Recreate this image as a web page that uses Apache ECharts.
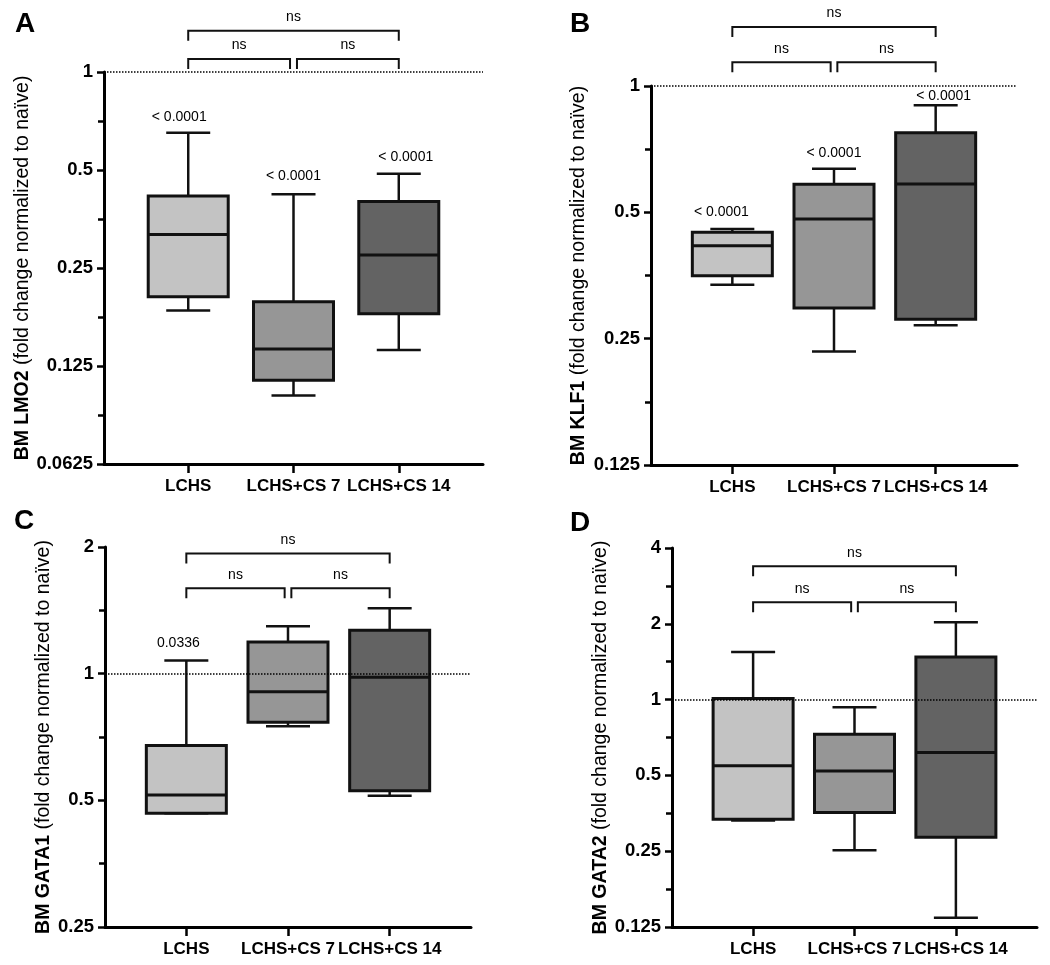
<!DOCTYPE html>
<html><head><meta charset="utf-8">
<script src="https://cdn.jsdelivr.net/npm/echarts@6/dist/echarts.min.js"></script>
<style>html,body{margin:0;padding:0;background:#fff}#c{width:1050px;height:965px}</style>
</head><body><div id="c"></div>
<script>
// ---------------- data ----------------
const categories = ['LCHS', 'LCHS+CS 7', 'LCHS+CS 14'];
// each group: [min, Q1, median, Q3, max]  (fold change normalized to naïve)
const lmo2  = [[0.185, 0.204, 0.317, 0.416, 0.651], [0.1015, 0.113, 0.141, 0.197, 0.421], [0.140, 0.181, 0.274, 0.400, 0.487]];
const klf1  = [[0.336, 0.353, 0.416, 0.448, 0.456], [0.233, 0.296, 0.482, 0.583, 0.635], [0.269, 0.278, 0.584, 0.774, 0.900]];
const gata1 = [[0.466, 0.466, 0.515, 0.675, 1.074], [0.750, 0.767, 0.906, 1.190, 1.296], [0.513, 0.527, 0.980, 1.268, 1.430]];
const gata2 = [[0.331, 0.335, 0.546, 1.009, 1.546], [0.252, 0.356, 0.521, 0.729, 0.933], [0.136, 0.284, 0.616, 1.477, 2.030]];
const pLmo2  = ['< 0.0001', '< 0.0001', '< 0.0001'];
const pKlf1  = ['< 0.0001', '< 0.0001', '< 0.0001'];
const pGata1 = ['0.0336', '', ''];
const pGata2 = ['', '', ''];
// pairwise comparisons: [groupA, groupB, label, row]
const comparisons = [[0, 1, 'ns', 0], [1, 2, 'ns', 0], [0, 2, 'ns', 1]];
const ticksLmo2  = [0.0625, 0.125, 0.25, 0.5, 1];
const ticksKlf1  = [0.125, 0.25, 0.5, 1];
const ticksGata1 = [0.25, 0.5, 1, 2];
const ticksGata2 = [0.125, 0.25, 0.5, 1, 2, 4];
const referenceValue = 1;

// ---------------- layout / style ----------------
const FONT = "'Liberation Sans', Arial, Helvetica, sans-serif";
const fills = ['#c3c3c3', '#969696', '#636363'];
const panels = [
  {letter: 'A', gene: 'LMO2', data: lmo2, p: pLmo2, ticks: ticksLmo2,
   grid: {left: 104, top: 72, width: 379, height: 392}, nameGap: 69, letterPos: [15, 10],
   rows: [0.133, 0.421], pOff: [[-9, -16], [0, -18], [7, -17]]},
  {letter: 'B', gene: 'KLF1', data: klf1, p: pKlf1, ticks: ticksKlf1,
   grid: {left: 651, top: 86, width: 366, height: 379}, nameGap: 62, letterPos: [570, 10],
   rows: [0.188, 0.467], pOff: [[-11, -17], [0, -16], [8, -9]]},
  {letter: 'C', gene: 'GATA1', data: gata1, p: pGata1, ticks: ticksGata1,
   grid: {left: 105, top: 547, width: 366, height: 380}, nameGap: 49, letterPos: [14, 507],
   rows: [0.674, 0.949], pOff: [[-8, -17], [0, -17], [0, -17]]},
  {letter: 'D', gene: 'GATA2', data: gata2, p: pGata2, ticks: ticksGata2,
   grid: {left: 672, top: 548, width: 365, height: 379}, nameGap: 61, letterPos: [570, 509],
   rows: [1.283, 1.758], pOff: [[0, -17], [0, -17], [0, -17]]}
];
const BOX_W = 80, CAP_W = 44, LEG = 10, GAP = 0.033;

const option = {animation: false, title: [], grid: [], xAxis: [], yAxis: [], series: []};

panels.forEach((pn, i) => {
  const lo = Math.log2(pn.ticks[0]), hi = Math.log2(pn.ticks[pn.ticks.length - 1]);
  option.title.push({text: pn.letter, left: pn.letterPos[0], top: pn.letterPos[1], padding: 0,
    textStyle: {fontSize: 28, fontWeight: 'bold', fontFamily: FONT, color: '#000'}});
  option.grid.push(Object.assign({containLabel: false}, pn.grid));
  option.xAxis.push({
    type: 'value', gridIndex: i, min: -0.8, max: 2.8,
    splitLine: {show: false},
    axisLine: {onZero: false, lineStyle: {color: '#000', width: 3}},
    axisTick: {customValues: [0, 1, 2], length: 9, lineStyle: {color: '#000', width: 2.5}},
    axisLabel: {customValues: [0, 1, 2], margin: 14, hideOverlap: false,
      formatter: v => categories[Math.round(v)],
      fontSize: 17, fontWeight: 'bold', fontFamily: FONT, color: '#000'}
  });
  option.yAxis.push({
    type: 'value', gridIndex: i, min: lo, max: hi, interval: 1,
    name: '{b|BM ' + pn.gene + '} (fold change normalized to naïve)',
    nameLocation: 'middle', nameGap: pn.nameGap, nameRotate: 90,
    nameTextStyle: {fontSize: 19.5, fontFamily: FONT, color: '#000',
      rich: {b: {fontSize: 19.5, fontWeight: 'bold', fontFamily: FONT, color: '#000'}}},
    splitLine: {show: false},
    axisLine: {onZero: false, lineStyle: {color: '#000', width: 3}},
    axisTick: {length: 7, lineStyle: {color: '#000', width: 2.5}},
    minorTick: {show: true, splitNumber: 2, length: 6, lineStyle: {color: '#000', width: 2.5}},
    axisLabel: {margin: 11, fontSize: 18.5, fontWeight: 'bold', fontFamily: FONT, color: '#000',
      formatter: v => {
        const t = pn.ticks.find(tt => Math.abs(Math.log2(tt) - v) < 1e-6);
        return t === undefined ? '' : String(t);
      }}
  });
  // boxes
  option.series.push({
    type: 'custom', xAxisIndex: i, yAxisIndex: i, clip: false,
    encode: {x: 0, y: [1, 2, 3, 4, 5]},
    data: pn.data.map((g, k) => [k].concat(g.map(v => Math.log2(v)))),
    renderItem: (params, api) => {
      const x = api.value(0);
      const pMin = api.coord([x, api.value(1)]);
      const pQ1 = api.coord([x, api.value(2)]);
      const pMed = api.coord([x, api.value(3)]);
      const pQ3 = api.coord([x, api.value(4)]);
      const pMax = api.coord([x, api.value(5)]);
      const cx = pMed[0], hw = BOX_W / 2, cw = CAP_W / 2;
      const ls = {stroke: '#111', lineWidth: 2.5};
      const idx = params.dataIndex;
      const children = [
        {type: 'line', shape: {x1: cx, y1: pMax[1], x2: cx, y2: pQ3[1]}, style: ls},
        {type: 'line', shape: {x1: cx - cw, y1: pMax[1], x2: cx + cw, y2: pMax[1]}, style: ls},
        {type: 'line', shape: {x1: cx, y1: pMin[1], x2: cx, y2: pQ1[1]}, style: ls},
        {type: 'line', shape: {x1: cx - cw, y1: pMin[1], x2: cx + cw, y2: pMin[1]}, style: ls},
        {type: 'rect', shape: {x: cx - hw, y: pQ3[1], width: BOX_W, height: pQ1[1] - pQ3[1]},
          style: {fill: fills[idx], stroke: '#111', lineWidth: 3}},
        {type: 'line', shape: {x1: cx - hw, y1: pMed[1], x2: cx + hw, y2: pMed[1]}, style: {stroke: '#111', lineWidth: 3}}
      ];
      if (pn.p[idx]) {
        children.push({type: 'text', x: cx + pn.pOff[idx][0], y: pMax[1] + pn.pOff[idx][1],
          style: {text: pn.p[idx], fontSize: 14, fontFamily: FONT, fill: '#000', align: 'center', verticalAlign: 'middle'}});
      }
      return {type: 'group', children};
    },
    markLine: {silent: true, symbol: ['none', 'none'], label: {show: false},
      lineStyle: {type: 'dotted', width: 1.5, color: '#000'},
      data: [{yAxis: Math.log2(referenceValue)}]},
    z: 3
  });
  // significance brackets
  option.series.push({
    type: 'custom', xAxisIndex: i, yAxisIndex: i, clip: false,
    encode: {x: [0, 1], y: 2},
    data: comparisons.map(c => {
      const row = c[3];
      const x1 = c[0] + (row === 0 && c[0] > 0 ? GAP : 0);
      const x2 = c[1] - (row === 0 && c[1] < categories.length - 1 ? GAP : 0);
      return [x1, x2, pn.rows[row], c[2]];
    }),
    renderItem: (params, api) => {
      const a = api.coord([api.value(0), api.value(2)]);
      const b = api.coord([api.value(1), api.value(2)]);
      const label = comparisons[params.dataIndex][2];
      return {type: 'group', children: [
        {type: 'polyline', shape: {points: [[a[0], a[1] + LEG], [a[0], a[1]], [b[0], b[1]], [b[0], b[1] + LEG]]},
          style: {stroke: '#111', lineWidth: 2, fill: null}},
        {type: 'text', x: (a[0] + b[0]) / 2, y: a[1] - 13.5,
          style: {text: label, fontSize: 14, fontFamily: FONT, fill: '#000', align: 'center', verticalAlign: 'middle'}}
      ]};
    },
    z: 3
  });
});

const chart = echarts.init(document.getElementById('c'), null, {renderer: 'canvas'});
chart.setOption(option);
</script>
</body></html>
